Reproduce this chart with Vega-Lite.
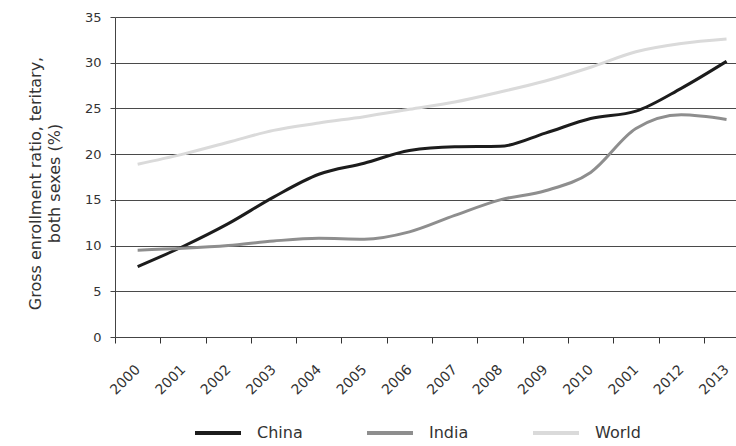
{
  "$schema": "https://vega.github.io/schema/vega-lite/v6.json",
  "width": 621,
  "height": 320,
  "autosize": "none",
  "padding": {"left": 115, "top": 17, "right": 0, "bottom": 109},
  "background": "white",
  "config": {
    "font": "DejaVu Sans",
    "view": {"stroke": null},
    "axis": {"labelFont": "DejaVu Sans", "titleFont": "DejaVu Sans"},
    "legend": {"labelFont": "DejaVu Sans"}
  },
  "data": {
    "values": [
      {"year": 2000, "country": "China", "value": 7.7},
      {"year": 2001, "country": "China", "value": 9.9},
      {"year": 2002, "country": "China", "value": 12.4},
      {"year": 2003, "country": "China", "value": 15.3},
      {"year": 2004, "country": "China", "value": 17.8},
      {"year": 2005, "country": "China", "value": 19.0},
      {"year": 2006, "country": "China", "value": 20.4},
      {"year": 2007, "country": "China", "value": 20.8},
      {"year": 2008, "country": "China", "value": 20.85},
      {"year": 2009, "country": "China", "value": 22.3},
      {"year": 2010, "country": "China", "value": 23.9},
      {"year": 2011, "country": "China", "value": 24.7},
      {"year": 2012, "country": "China", "value": 27.2},
      {"year": 2013, "country": "China", "value": 30.15},
      {"year": 2000, "country": "India", "value": 9.5},
      {"year": 2001, "country": "India", "value": 9.7},
      {"year": 2002, "country": "India", "value": 10.0},
      {"year": 2003, "country": "India", "value": 10.5},
      {"year": 2004, "country": "India", "value": 10.8},
      {"year": 2005, "country": "India", "value": 10.7},
      {"year": 2006, "country": "India", "value": 11.5},
      {"year": 2007, "country": "India", "value": 13.3},
      {"year": 2008, "country": "India", "value": 15.0},
      {"year": 2009, "country": "India", "value": 16.0},
      {"year": 2010, "country": "India", "value": 18.0},
      {"year": 2011, "country": "India", "value": 22.8},
      {"year": 2012, "country": "India", "value": 24.3},
      {"year": 2013, "country": "India", "value": 23.8},
      {"year": 2000, "country": "World", "value": 18.9},
      {"year": 2001, "country": "World", "value": 20.0},
      {"year": 2002, "country": "World", "value": 21.3},
      {"year": 2003, "country": "World", "value": 22.6},
      {"year": 2004, "country": "World", "value": 23.4},
      {"year": 2005, "country": "World", "value": 24.1},
      {"year": 2006, "country": "World", "value": 24.9},
      {"year": 2007, "country": "World", "value": 25.7},
      {"year": 2008, "country": "World", "value": 26.8},
      {"year": 2009, "country": "World", "value": 28.0},
      {"year": 2010, "country": "World", "value": 29.5},
      {"year": 2011, "country": "World", "value": 31.2},
      {"year": 2012, "country": "World", "value": 32.1},
      {"year": 2013, "country": "World", "value": 32.6}
    ]
  },
  "mark": {"type": "line", "strokeWidth": 3, "interpolate": "monotone"},
  "encoding": {
    "x": {
      "field": "year",
      "type": "quantitative",
      "scale": {"domain": [1999.5, 2013.209], "nice": false, "zero": false},
      "axis": {
        "values": [2000, 2001, 2002, 2003, 2004, 2005, 2006, 2007, 2008, 2009, 2010, 2011, 2012, 2013],
        "format": "d",
        "labelExpr": "datum.value == 2011 ? '2001' : datum.label",
        "title": null,
        "grid": false,
        "tickOffset": -22.65,
        "labelOffset": 22.65,
        "tickSize": 6,
        "tickColor": "#333",
        "domainColor": "#444",
        "labelAngle": -45,
        "labelAlign": "right",
        "labelBaseline": "middle",
        "labelPadding": 24,
        "labelFontSize": 14,
        "labelColor": "#333",
        "labelFlush": false,
        "labelOverlap": false,
        "labelBound": false
      }
    },
    "y": {
      "field": "value",
      "type": "quantitative",
      "scale": {"domain": [0, 35], "nice": false},
      "axis": {
        "values": [0, 5, 10, 15, 20, 25, 30, 35],
        "title": ["Gross enrollment ratio, teritary,", "both sexes (%)"],
        "titleFontSize": 16,
        "titleFontWeight": "normal",
        "titleColor": "#333",
        "titleLineHeight": 19,
        "titlePadding": 22,
        "titleY": 166,
        "grid": true,
        "gridColor": "#4a4a4a",
        "gridWidth": 1,
        "domainColor": "#444",
        "tickColor": "#444",
        "tickSize": 5,
        "labelPadding": 9,
        "labelFontSize": 13,
        "labelColor": "#333"
      }
    },
    "color": {
      "field": "country",
      "type": "nominal",
      "scale": {"domain": ["China", "India", "World"], "range": ["#1c1c1c", "#8e8e8e", "#dadada"]},
      "legend": {
        "title": null,
        "orient": "none",
        "direction": "horizontal",
        "legendX": 78,
        "legendY": 391,
        "symbolType": "stroke",
        "symbolSize": 2116,
        "symbolStrokeWidth": 4,
        "labelFontSize": 16,
        "labelColor": "#333",
        "labelOffset": 14,
        "columnPadding": 56
      }
    }
  }
}
